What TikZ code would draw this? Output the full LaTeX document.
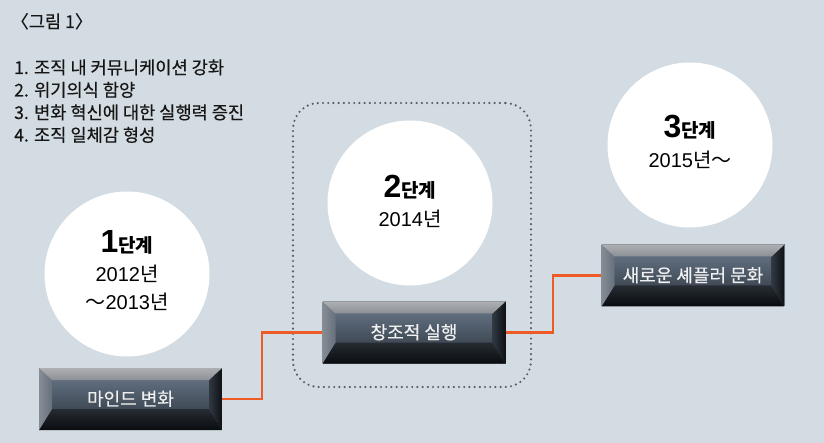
\documentclass[tikz,border=0pt]{standalone}
\usepackage{fontspec}
\newfontfamily\kr{Noto Sans CJK KR}
\newfontfamily\krm[FakeBold=0.35]{Noto Sans CJK KR}
\newfontfamily\lat{Liberation Sans}
\usetikzlibrary{calc}
\definecolor{bg}{HTML}{D3DCE2}
\definecolor{orng}{HTML}{EE5B26}
\definecolor{dotc}{HTML}{5A5F66}
\definecolor{txt}{HTML}{161616}
\definecolor{bxf1}{HTML}{5F6D7E}
\definecolor{bxf2}{HTML}{404A56}
\definecolor{bxb1}{HTML}{262C33}
\definecolor{bxb2}{HTML}{0A0C0F}
\definecolor{bxl1}{HTML}{868C93}
\definecolor{bxl2}{HTML}{65717E}
\definecolor{bxr1}{HTML}{303843}
\definecolor{bxr2}{HTML}{0E1114}
\definecolor{bxt1}{HTML}{ADAFB2}
\definecolor{bxt2}{HTML}{8C9096}
\tikzset{
  boxstyle/.style={minimum width=183pt, minimum height=62pt, inner sep=0pt,
    fill=bxf1, text=white!94!black, font=\krm\fontsize{18}{18}\selectfont,
    path picture={
      \coordinate (pNW) at (path picture bounding box.north west);
      \coordinate (pNE) at (path picture bounding box.north east);
      \coordinate (pSW) at (path picture bounding box.south west);
      \coordinate (pSE) at (path picture bounding box.south east);
      \coordinate (qNW) at ([xshift=13pt,yshift=-12pt]pNW);
      \coordinate (qNE) at ([xshift=-13pt,yshift=-12pt]pNE);
      \coordinate (qSW) at ([xshift=13pt,yshift=21pt]pSW);
      \coordinate (qSE) at ([xshift=-13pt,yshift=21pt]pSE);
      \shade[top color=bxf1, bottom color=bxf2] (qNW) rectangle (qSE);
      \shade[top color=bxb1, bottom color=bxb2] (pSW) -- (qSW) -- (qSE) -- (pSE) -- cycle;
      \shade[left color=bxl1, right color=bxl2] (pNW) -- (qNW) -- (qSW) -- (pSW) -- cycle;
      \shade[left color=bxr1, right color=bxr2] (pNE) -- (qNE) -- (qSE) -- (pSE) -- cycle;
      \shade[top color=bxt1, bottom color=bxt2] (pNW) -- (qNW) -- (qNE) -- (pNE) -- cycle;
    }},
  circ/.style={circle, fill=white, minimum size=165pt, inner sep=0pt},
  link/.style={orng, line width=2.8pt},
  grpbox/.style={draw=dotc, line width=2.4pt, dash pattern=on 0pt off 5.2pt, line cap=round,
    rounded corners=26pt, minimum width=238pt, minimum height=284pt, inner sep=0pt},
  listtxt/.style={anchor=base west, text=txt, font=\krm\fontsize{17.6}{17.6}\selectfont, inner sep=0pt},
  ctxt/.style={anchor=base, text=black, inner sep=0pt},
}
\begin{document}
\begin{tikzpicture}[x=1pt, y=-1pt]
\fill[bg] (0,0) rectangle (824,443);
\useasboundingbox (0,0) rectangle (824,443);

% title and list
\node[listtxt] (title) at (11,28) {〈그림 1〉};
\node[listtxt] (l1) at (14,74) {1. 조직 내 커뮤니케이션 강화};
\node[listtxt] (l2) at (14,96.5) {2. 위기의식 함양};
\node[listtxt] (l3) at (14,119) {3. 변화 혁신에 대한 실행력 증진};
\node[listtxt] (l4) at (14,141.5) {4. 조직 일체감 형성};

% dotted group
\node[grpbox] (grp) at (412,245) {};

% circles
\node[circ] (c1) at (127,274) {};
\node[circ] (c2) at (410,203) {};
\node[circ] (c3) at (690,145) {};

\node[ctxt] (c1a) at ([yshift=21pt]c1.center) {\lat\bfseries\fontsize{32}{32}\selectfont 1\kr\fontsize{19}{19}\selectfont 단계};
\node[ctxt] (c1b) at ([yshift=-8pt]c1.center) {\lat\fontsize{20}{20}\selectfont 2012\kr 년};
\node[ctxt] (c1c) at ([yshift=-36pt]c1.center) {\kr\fontsize{20}{20}\selectfont ～\lat 2013\kr 년};

\node[ctxt] (c2a) at ([yshift=5pt]c2.center) {\lat\bfseries\fontsize{32}{32}\selectfont 2\kr\fontsize{19}{19}\selectfont 단계};
\node[ctxt] (c2b) at ([yshift=-24pt]c2.center) {\lat\fontsize{20}{20}\selectfont 2014\kr 년};

\node[ctxt] (c3a) at ([yshift=7pt]c3.center) {\lat\bfseries\fontsize{32}{32}\selectfont 3\kr\fontsize{19}{19}\selectfont 단계};
\node[ctxt] (c3b) at ([yshift=-23pt]c3.center) {\lat\fontsize{20}{20}\selectfont 2015\kr 년～};

% boxes
\node[boxstyle] (b1) at (130.5,399) {\raisebox{2pt}{마인드 변화}};
\node[boxstyle] (b2) at (414,332.5) {\raisebox{2pt}{창조적 실행}};
\node[boxstyle] (b3) at (693,275.5) {\raisebox{2pt}{새로운 셰플러 문화}};

% connectors
\coordinate (m1) at (262,332.5);
\coordinate (m2) at (553,275.5);
\draw[link] (b1.east) -| (m1) -- (b2.west);
\draw[link] (b2.east) -| (m2) -- (b3.west);
\end{tikzpicture}
\end{document}
